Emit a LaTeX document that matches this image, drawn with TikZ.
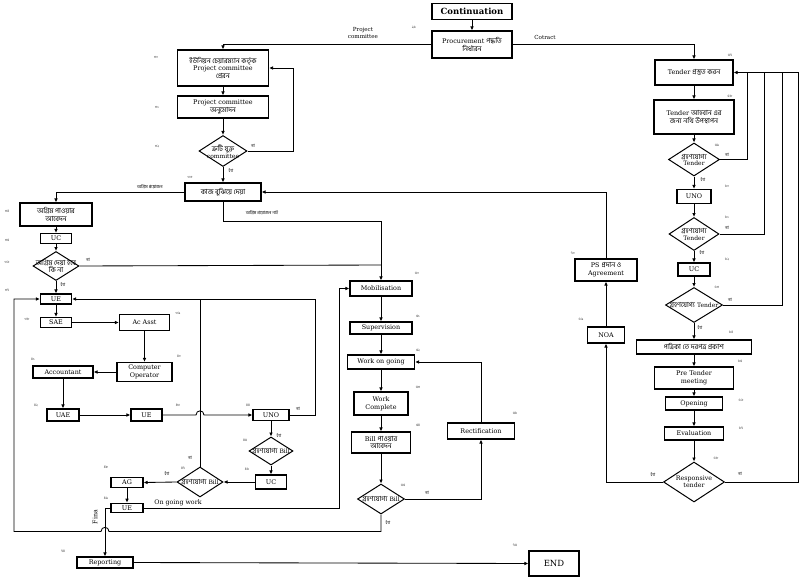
\documentclass[tikz,border=0pt]{standalone}
\usepackage{fontspec}
\setmainfont{DejaVu Serif}
\newfontfamily\bnf[Script=Bengali]{Hind Siliguri}
\newcommand\bng[1]{{\bnf\fontsize{7}{7.8}\selectfont #1}}
\usetikzlibrary{arrows.meta,shapes.geometric}
\begin{document}
\begin{tikzpicture}[x=1pt,y=-1pt,
  box/.style={draw, line width=1.1pt, inner sep=0pt, align=center, font=\fontsize{6.4}{7.8}\selectfont},
  dia/.style={draw, diamond, line width=1pt, inner sep=0pt},
  dtxt/.style={inner sep=0pt, align=center, font=\fontsize{6}{6.8}\selectfont},
  ln/.style={line width=0.85pt},
  arr/.style={ln, -{Latex[length=4pt,width=3.6pt]}},
  el/.style={font=\bnf\fontsize{4.5}{5}\selectfont, inner sep=0pt},
  num/.style={font=\bnf\fontsize{3.6}{4}\selectfont, inner sep=0pt, text=black!80},
  lat/.style={inner sep=0pt, align=center, font=\fontsize{5.6}{6.2}\selectfont},
]
\useasboundingbox (0,0) rectangle (802,580);
\fill[white] (0,0) rectangle (802,580);

% ---------- top ----------
\node[box, font=\bfseries\fontsize{8.5}{9}\selectfont, minimum width=80, minimum height=16] (cont) at (472,11.5) {Continuation};
\node[box, minimum width=80, minimum height=27] (proc) at (472,44.5) {Procurement \bng{পদ্ধতি}\\\bng{নির্ধারন}};

% ---------- left upper column ----------
\node[box, minimum width=91, minimum height=36] (union) at (223,68) {\bng{ইউনিয়ন চেয়ারম্যান কর্তৃক}\\Project committee\\\bng{প্রেরন}};
\node[box, minimum width=91, minimum height=22] (pcapp) at (223,107) {Project committee\\\bng{অনুমোদন}};
\node[dia, minimum width=48, minimum height=31] (dcomm) at (223,151) {};
\node[dtxt] (dcommT) at (223,152) {\bng{ত্রুটি যুক্ত}\\committee};
\node[box, minimum width=76, minimum height=18] (kaj) at (223,192) {\bng{কাজ বুঝিয়ে দেয়া}};

% ---------- left advance branch ----------
\node[box, minimum width=72, minimum height=23] (agrim) at (56,214.5) {\bng{অগ্রিম পাওয়ার}\\\bng{আবেদন}};
\node[box, minimum width=31, minimum height=10] (uc1) at (56,238.5) {UC};
\node[dia, minimum width=46, minimum height=29] (dagrim) at (56,266) {};
\node[dtxt] (dagrimT) at (56,266) {\bng{অগ্রিম দেয়া হবে}\\\bng{কি না}};
\node[box, minimum width=31, minimum height=10] (ue1) at (56,299) {UE};
\node[box, minimum width=31, minimum height=10] (sae) at (56,322.5) {SAE};
\node[box, minimum width=50, minimum height=16] (acasst) at (144.5,322.5) {Ac Asst};
\node[box, minimum width=55, minimum height=19] (compop) at (144.5,372) {Computer\\Operator};
\node[box, minimum width=60, minimum height=12] (acct) at (63,372) {Accountant};
\node[box, minimum width=32, minimum height=12] (uae) at (63,415) {UAE};
\node[box, minimum width=31, minimum height=12] (ue2) at (146.5,415) {UE};
\node[box, minimum width=36, minimum height=11] (uno1) at (271,415) {UNO};
\node[dia, minimum width=44, minimum height=28] (dbill1) at (271,451) {};
\node[dtxt] (dbill1T) at (271,451) {\bng{গ্রহণযোগ্য} Bill};
\node[box, minimum width=31, minimum height=14] (uc2) at (271,482) {UC};
\node[dia, minimum width=46, minimum height=30] (dbill2) at (200,482) {};
\node[dtxt] (dbill2T) at (200,482) {\bng{গ্রহণযোগ্য} Bill};
\node[box, minimum width=32, minimum height=9.5] (ag) at (127,482.5) {AG};
\node[box, minimum width=32, minimum height=9.5] (ue3) at (127,508) {UE};
\node[box, minimum width=56, minimum height=11] (report) at (105,562.5) {Reporting};
\node[box, font=\fontsize{8.5}{9}\selectfont, minimum width=50, minimum height=25] (endn) at (554,563.5) {END};

% ---------- middle column ----------
\node[box, minimum width=62, minimum height=15] (mob) at (381,288.5) {Mobilisation};
\node[box, minimum width=62, minimum height=12] (sup) at (381,328) {Supervision};
\node[box, minimum width=67, minimum height=14] (wog) at (381,362) {Work on going};
\node[box, minimum width=54, minimum height=23] (wcomp) at (381,403.5) {Work\\Complete};
\node[box, minimum width=59, minimum height=21] (billapp) at (381,442.5) {Bill \bng{পাওয়ার}\\\bng{আবেদন}};
\node[dia, minimum width=47, minimum height=30] (dbill3) at (381,499) {};
\node[dtxt] (dbill3T) at (381,499) {\bng{গ্রহণযোগ্য} Bill};
\node[box, minimum width=67, minimum height=16] (rect) at (481,431) {Rectification};

% ---------- right column ----------
\node[box, minimum width=78, minimum height=25] (tprep) at (694,72.5) {Tender \bng{প্রস্তুত করন}};
\node[box, minimum width=80, minimum height=34] (tcall) at (694,117) {Tender \bng{আহবান এর}\\\bng{জন্য নথি উপস্থাপন}};
\node[dia, minimum width=51, minimum height=33] (dt1) at (694,159.5) {};
\node[dtxt] (dt1T) at (694,160) {\bng{গ্রহণযোগ্য}\\Tender};
\node[box, minimum width=34, minimum height=14] (uno2) at (694,196.5) {UNO};
\node[dia, minimum width=50, minimum height=33] (dt2) at (694,234) {};
\node[dtxt] (dt2T) at (694,234.5) {\bng{গ্রহণযোগ্য}\\Tender};
\node[box, minimum width=32, minimum height=13] (uc3) at (694,269.5) {UC};
\node[dia, minimum width=57, minimum height=35] (dt3) at (694,305) {};
\node[dtxt] (dt3T) at (694,305) {\bng{গ্রহণযোগ্য} Tender};
\node[box, minimum width=115, minimum height=14] (patrika) at (694,347) {\bng{পত্রিকা তে দরপত্র প্রকাশ}};
\node[box, minimum width=79, minimum height=22] (pretender) at (694,378) {Pre Tender\\meeting};
\node[box, minimum width=57, minimum height=13] (opening) at (694,403.5) {Opening};
\node[box, minimum width=59, minimum height=13] (eval) at (694,433.5) {Evaluation};
\node[dia, minimum width=61, minimum height=40] (dresp) at (694,482) {};
\node[dtxt, font=\fontsize{6.3}{7.2}\selectfont] (drespT) at (694,482) {Responsive\\tender};
\node[box, minimum width=37, minimum height=16] (noa) at (606,335) {NOA};
\node[box, minimum width=62, minimum height=22] (ps) at (606,270) {PS \bng{প্রদান ও}\\Agreement};

% ---------- connectors: top ----------
\draw[arr] (cont.south) -- (proc.north);
\draw[arr] (proc.west) -| (union.north);
\draw[arr] (proc.east) -| (tprep.north);
\node[lat] (lpc) at (363,33) {Project\\committee};
\node[lat] (lct) at (545,37) {Cotract};

% ---------- connectors: left upper ----------
\draw[arr] (union.south) -- (pcapp.north);
\draw[arr] (pcapp.south) -- (dcomm.north);
\draw[arr] (dcomm.east) -- (293,151) |- (union.east);
\node[el] (l1) at (253,146) {না};
\draw[arr] (dcomm.south) -- (kaj.north);
\node[el] (l2) at (231,171) {হ্যাঁ};
\draw[arr] (kaj.west) -| (agrim.north);
\node[el] (l3) at (150,187) {অগ্রিম প্রয়োজন};
\draw[arr] (kaj.south) -- (223,221) -| (mob.north);
\node[el] (l4) at (262,213) {অগ্রিম প্রয়োজন নাই};
\draw[arr] (ps.north) |- (kaj.east);

% ---------- connectors: left branch ----------
\draw[arr] (agrim.south) -- (uc1.north);
\draw[arr] (uc1.south) -- (dagrim.north);
\draw[ln] (dagrim.east) -- (381,265);
\node[el] (l5) at (88,260) {না};
\draw[arr] (dagrim.south) -- (ue1.north);
\node[el] (l6) at (63,285) {হ্যাঁ};
\draw[arr] (ue1.south) -- (sae.north);
\draw[arr] (sae.east) -- (acasst.west);
\draw[arr] (acasst.south) -- (compop.north);
\draw[arr] (compop.west) -- (acct.east);
\draw[arr] (acct.south) -- (uae.north);
\draw[arr] (uae.east) -- (ue2.west);
\draw[arr] (ue2.east) -- (196,415) .. controls (196,409.5) and (204,409.5) .. (204,415) -- (uno1.west);
\draw[arr] (uno1.east) -- (315,415) -- (315,299) -- (ue1.east);
\node[el] (l7) at (298,409) {না};
\draw[arr] (uno1.south) -- (dbill1.north);
\node[el] (l8) at (279,436) {হ্যাঁ};
\draw[arr] (dbill1.south) -- (uc2.north);
\draw[arr] (uc2.west) -- (dbill2.east);
\draw[ln] (dbill2.north) -- (200,299);
\node[el] (l9) at (190,458) {না};
\draw[arr] (dbill2.west) -- (ag.east);
\node[el] (l10) at (167,474) {হ্যাঁ};
\draw[arr] (ag.south) -- (ue3.north);
\draw[arr] (ue3.east) -- (339,508) |- (mob.west);
\node[lat, font=\fontsize{6.3}{7}\selectfont] (log) at (178,503) {On going work};
\draw[arr] (ue3.west) -- (105,508) -- (report.north);
\node[lat, font=\fontsize{6.3}{7}\selectfont, rotate=90] (fina) at (95,517) {Fina};
\draw[arr] (dbill3.south) -- (381,531.5) -- (109,531.5) .. controls (109,526) and (101,526) .. (101,531.5) -- (14,531.5) -- (14,299) -- (ue1.west);
\node[el] (l11) at (388,523) {হ্যাঁ};
\draw[arr] (report.east) -- (endn.west);

% ---------- connectors: middle ----------
\draw[arr] (mob.south) -- (sup.north);
\draw[arr] (sup.south) -- (wog.north);
\draw[arr] (wog.south) -- (wcomp.north);
\draw[arr] (wcomp.south) -- (billapp.north);
\draw[arr] (billapp.south) -- (dbill3.north);
\draw[arr] (dbill3.east) -| (rect.south);
\node[el] (l12) at (427,493) {না};
\draw[arr] (rect.north) |- (wog.east);

% ---------- connectors: right ----------
\draw[arr] (tprep.south) -- (tcall.north);
\draw[arr] (tcall.south) -- (dt1.north);
\draw[arr] (dt1.south) -- (uno2.north);
\node[el] (l13) at (703,180) {হ্যাঁ};
\draw[arr] (uno2.south) -- (dt2.north);
\draw[arr] (dt2.south) -- (uc3.north);
\node[el] (l14) at (702,253) {হ্যাঁ};
\draw[arr] (uc3.south) -- (dt3.north);
\draw[arr] (dt3.south) -- (patrika.north);
\node[el] (l15) at (700,328) {হ্যাঁ};
\draw[arr] (patrika.south) -- (pretender.north);
\draw[arr] (pretender.south) -- (opening.north);
\draw[arr] (opening.south) -- (eval.north);
\draw[arr] (eval.south) -- (dresp.north);
\draw[ln] (dt1.east) -| (747,72.5);
\node[el] (l16) at (727,155) {না};
\draw[ln] (dt2.east) -| (764,72.5);
\node[el] (l17) at (727,228) {না};
\draw[ln] (dt3.east) -| (782,72.5);
\node[el] (l18) at (730,300) {না};
\draw[arr] (dresp.east) -- (798,482) -- (798,72.5) -- (tprep.east);
\node[el] (l19) at (740,474) {না};
\draw[arr] (dresp.west) -| (noa.south);
\node[el] (l20) at (653,475) {হ্যাঁ};
\draw[arr] (noa.north) -- (ps.south);

% ---------- step numbers ----------
\foreach \x/\y/\t [count=\i] in {
  414/27/২৯, 156/57/৩০, 157/107/৩১, 157/146/৩২, 190/177/৩৩,
  7/211/৩৪, 7/240/৩৫, 7/262/৩৬, 7/290/৩৭, 27/319/৩৮, 178/313/৩৯,
  179/356/৪০, 33/359/৪১, 36/405/৪২, 178/405/৪৩, 248/405/৪৪,
  245/440/৪৫, 247/469/৪৬, 183/468/৪৭, 106/467/৪৮, 106/498/৪৯,
  417/273/৫০, 418/316/৫১, 418/350/৫২, 418/387/৫৩, 418/425/৫৪,
  403/485/৫৫, 515/413/৫৬, 730/55/৫৭, 730/96/৫৮, 717/145/৫৯,
  727/186/৬০, 727/217/৬১, 727/259/৬২, 717/287/৬৩, 731/332/৬৪,
  740/361/৬৫, 741/400/৬৬, 741/428/৬৭, 716/458/৬৮, 581/319/৬৯,
  573/253/৭০, 63/551/৭৪, 515/545/৭৫}
  \node[num] (num\i) at (\x,\y) {\t};
\end{tikzpicture}
\end{document}
